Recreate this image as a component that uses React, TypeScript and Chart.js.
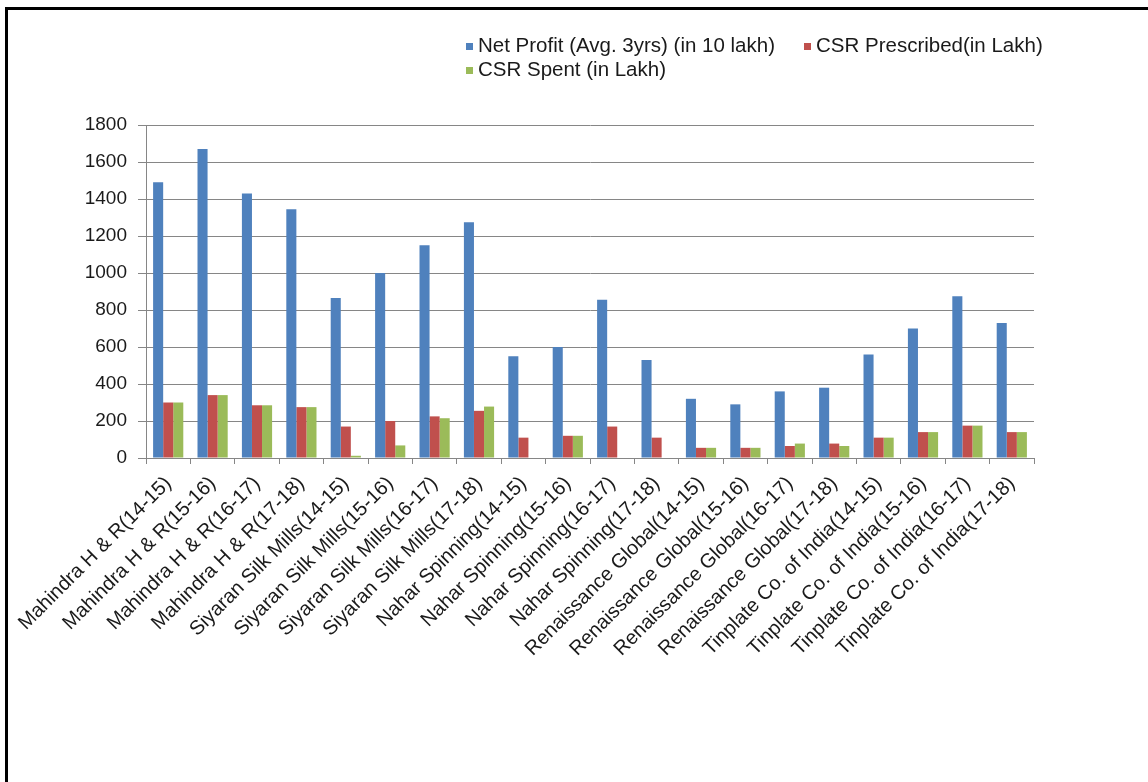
import React, { useEffect, useRef } from "react";
import { Chart, registerables } from "chart.js";

Chart.register(...registerables);

const categories = [
  "Mahindra H & R(14-15)",
  "Mahindra H & R(15-16)",
  "Mahindra H & R(16-17)",
  "Mahindra H & R(17-18)",
  "Siyaran Silk Mills(14-15)",
  "Siyaran Silk Mills(15-16)",
  "Siyaran Silk Mills(16-17)",
  "Siyaran Silk Mills(17-18)",
  "Nahar Spinning(14-15)",
  "Nahar Spinning(15-16)",
  "Nahar Spinning(16-17)",
  "Nahar Spinning(17-18)",
  "Renaissance Global(14-15)",
  "Renaissance Global(15-16)",
  "Renaissance Global(16-17)",
  "Renaissance Global(17-18)",
  "Tinplate Co. of India(14-15)",
  "Tinplate Co. of India(15-16)",
  "Tinplate Co. of India(16-17)",
  "Tinplate Co. of India(17-18)",
];

const netProfit = [1490, 1670, 1430, 1345, 865, 1000, 1150, 1275, 550, 600, 855, 530, 320, 290, 360, 380, 560, 700, 875, 730];
const csrPrescribed = [300, 340, 285, 275, 170, 200, 225, 255, 110, 120, 170, 110, 55, 55, 65, 78, 110, 140, 175, 140];
const csrSpent = [300, 340, 285, 275, 12, 68, 215, 278, 0, 120, 0, 0, 55, 55, 78, 65, 110, 140, 175, 140];

const seriesLabels = ["Net Profit (Avg. 3yrs) (in 10 lakh)", "CSR Prescribed(in Lakh)", "CSR Spent (in Lakh)"];
const seriesColors = ["#4F81BD", "#C0504D", "#9BBB59"];

const yMin = 0;
const yMax = 1800;
const yStep = 200;

const FONT = '"Liberation Sans", Arial, sans-serif';

const legendPlugin = {
  id: "customLegend",
  afterDraw(chart: any) {
    const ctx = chart.ctx;
    const rows = [
      [{ i: 0, x: 466 }, { i: 1, x: 804 }],
      [{ i: 2, x: 466 }],
    ];
    const rowY = [46, 70];
    ctx.save();
    ctx.font = `20.5px ${FONT}`;
    ctx.textBaseline = "middle";
    ctx.textAlign = "left";
    rows.forEach((row, r) => {
      row.forEach((it) => {
        const ds = chart.data.datasets[it.i];
        ctx.fillStyle = ds.backgroundColor;
        ctx.fillRect(it.x, rowY[r] - 3, 7, 7);
        ctx.fillStyle = "#1a1a1a";
        ctx.fillText(ds.label, it.x + 12, rowY[r]);
      });
    });
    ctx.restore();
  },
};

export default function App() {
  const ref = useRef<HTMLCanvasElement | null>(null);

  useEffect(() => {
    if (!ref.current) return;
    const chart = new Chart(ref.current, {
      type: "bar",
      data: {
        labels: categories,
        datasets: [
          { label: seriesLabels[0], data: netProfit, backgroundColor: seriesColors[0] },
          { label: seriesLabels[1], data: csrPrescribed, backgroundColor: seriesColors[1] },
          { label: seriesLabels[2], data: csrSpent, backgroundColor: seriesColors[2] },
        ],
      },
      options: {
        responsive: false,
        animation: false,
        layout: { padding: { top: 125, left: 0, right: 114, bottom: 0 } },
        datasets: {
          bar: { barPercentage: 1, categoryPercentage: 0.68 },
        },
        plugins: {
          legend: { display: false },
          tooltip: { enabled: false },
          title: { display: false },
        },
        scales: {
          x: {
            offset: true,
            grid: {
              offset: true,
              drawOnChartArea: false,
              drawTicks: true,
              tickLength: 6,
              color: "#868686",
            },
            border: { display: true, color: "#868686" },
            ticks: {
              autoSkip: false,
              minRotation: 45,
              maxRotation: 45,
              padding: 8,
              color: "#1a1a1a",
              font: { family: FONT, size: 20 },
            },
            afterFit: (s: any) => {
              s.height = 782 - 458;
            },
          },
          y: {
            min: yMin,
            max: yMax,
            ticks: {
              stepSize: yStep,
              padding: 11,
              color: "#1a1a1a",
              font: { family: FONT, size: 19 },
              callback: (v: any) => String(v),
            },
            grid: {
              color: "#868686",
              drawTicks: true,
              tickLength: 8,
            },
            border: { display: true, color: "#868686" },
            afterFit: (s: any) => {
              s.width = 146;
            },
          },
        },
      },
      plugins: [legendPlugin],
    });
    return () => chart.destroy();
  }, []);

  return (
    <div style={{ position: "absolute", left: 0, top: 0, width: 1148, height: 782, background: "#fff", overflow: "hidden" }}>
      <canvas ref={ref} width={1148} height={782} style={{ position: "absolute", left: 0, top: 0 }} />
      <div style={{ position: "absolute", left: 5, top: 7, width: 3, height: 775, background: "#000" }} />
      <div style={{ position: "absolute", left: 5, top: 7, width: 1143, height: 3, background: "#000" }} />
    </div>
  );
}
